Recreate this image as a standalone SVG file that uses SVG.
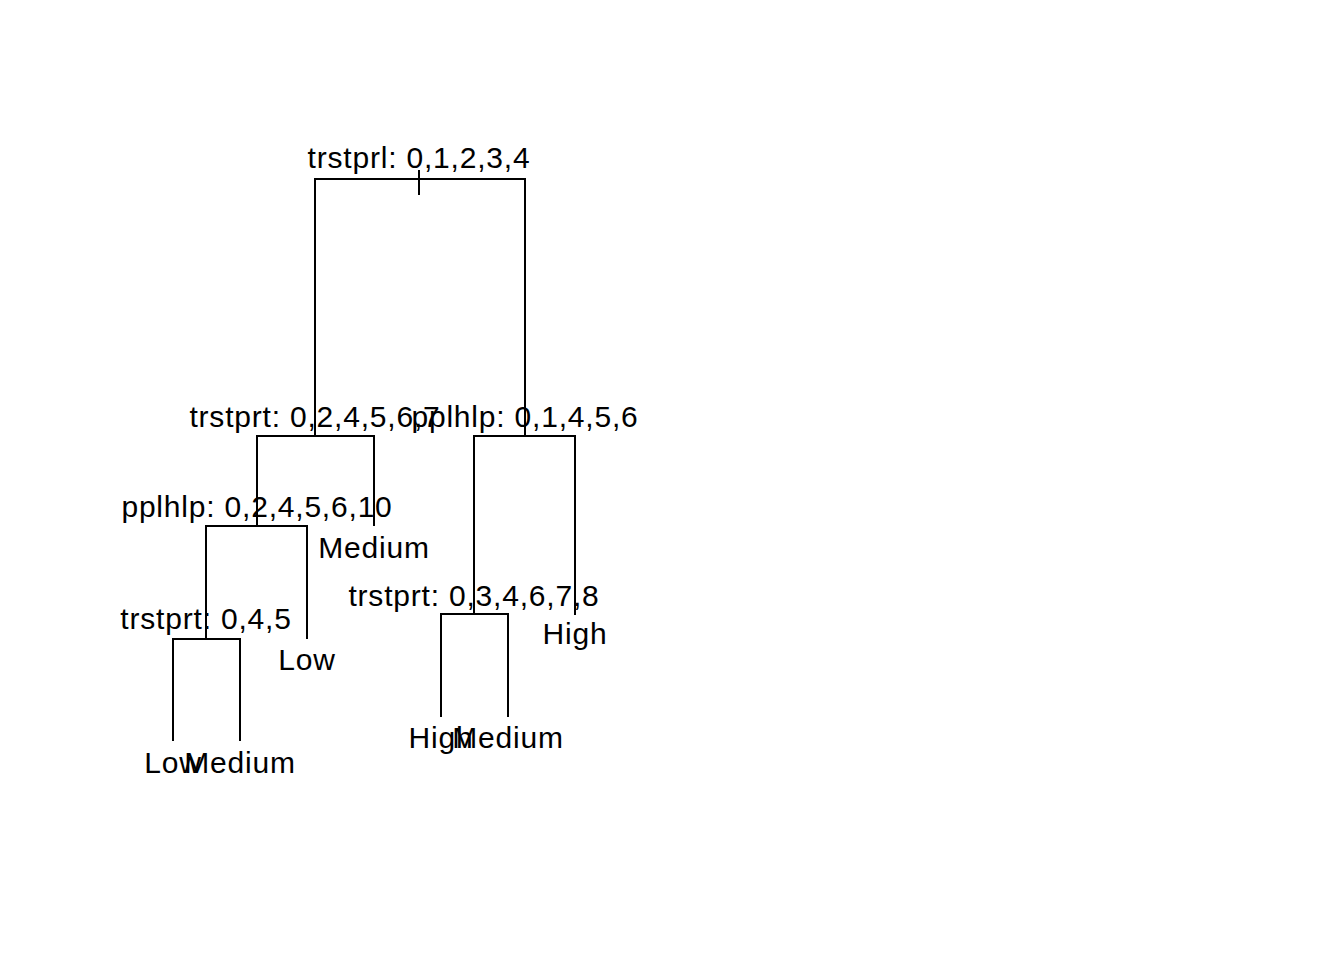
<svg xmlns="http://www.w3.org/2000/svg" width="1344" height="960" viewBox="0 0 1344 960">
<style>
.e{fill:none;stroke:#000;stroke-width:2;stroke-linecap:butt}
text{font-family:"Liberation Sans",Arial,sans-serif;font-size:30px;letter-spacing:0.8px;fill:#000;text-anchor:middle}
</style>
<rect width="1344" height="960" fill="#fff"/>
<g id="connectors">
<path class="e" d="M419,170V195"/>
<path class="e" d="M315,436V179H525V436"/>
<path class="e" d="M257,526V436H374V526"/>
<path class="e" d="M474,615V436H575V615"/>
<path class="e" d="M206,639V526H307V639"/>
<path class="e" d="M173,741V639H240V741"/>
<path class="e" d="M441,717V614H508V717"/>
</g>
<g id="n1"><text x="419" y="168">trstprl: 0,1,2,3,4</text></g>
<g id="n2"><text x="315" y="427">trstprt: 0,2,4,5,6,7</text></g>
<g id="n3"><text x="525" y="427">pplhlp: 0,1,4,5,6</text></g>
<g id="n4"><text x="257" y="517">pplhlp: 0,2,4,5,6,10</text></g>
<g id="n5"><text x="374" y="558">Medium</text></g>
<g id="n6"><text x="206" y="629">trstprt: 0,4,5</text></g>
<g id="n7"><text x="307" y="670">Low</text></g>
<g id="n8"><text x="173" y="773">Low</text></g>
<g id="n9"><text x="240" y="773">Medium</text></g>
<g id="n10"><text x="474" y="606">trstprt: 0,3,4,6,7,8</text></g>
<g id="n11"><text x="575" y="644">High</text></g>
<g id="n12"><text x="441" y="748">High</text></g>
<g id="n13"><text x="508" y="748">Medium</text></g>
</svg>
